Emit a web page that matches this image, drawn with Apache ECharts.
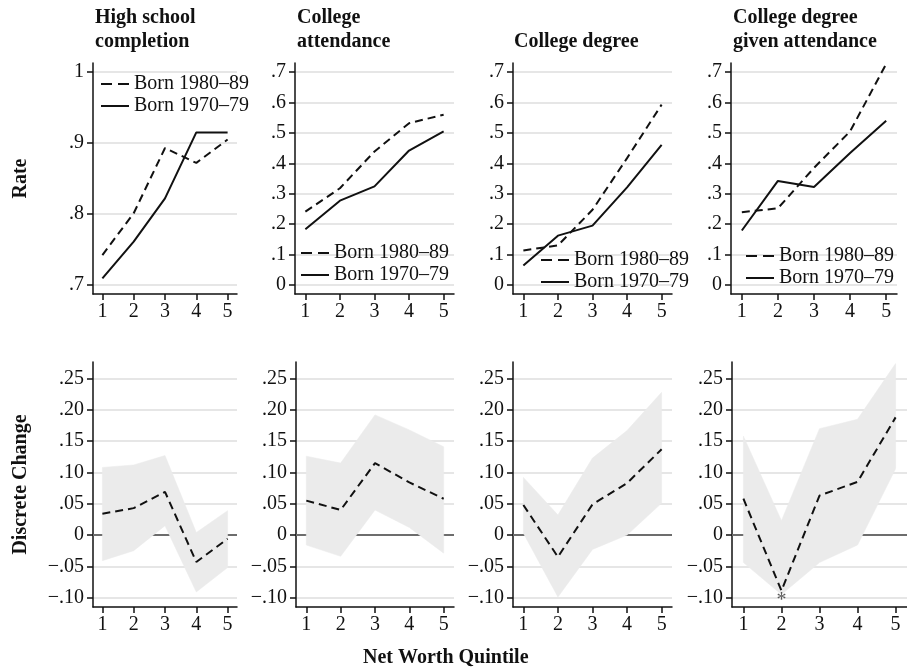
<!DOCTYPE html>
<html><head><meta charset="utf-8">
<script src="https://cdn.jsdelivr.net/npm/echarts@6/dist/echarts.min.js"></script>
<style>html,body{margin:0;padding:0;background:#fff}#c{width:907px;height:671px}</style>
</head><body><div id="c"></div>
<script>
// ---------- data ----------
const quintiles = [1, 2, 3, 4, 5];
const panelTitles = ['High school\ncompletion', 'College\nattendance', 'College degree', 'College degree\ngiven attendance'];
const seriesNames = ['Born 1980–89', 'Born 1970–79'];

// Top row: rates
const hsBorn80 = [0.742, 0.801, 0.893, 0.872, 0.905];
const hsBorn70 = [0.709, 0.761, 0.822, 0.915, 0.915];
const attBorn80 = [0.241, 0.318, 0.439, 0.532, 0.560];
const attBorn70 = [0.183, 0.277, 0.324, 0.442, 0.505];
const degBorn80 = [0.113, 0.130, 0.247, 0.417, 0.593];
const degBorn70 = [0.064, 0.162, 0.195, 0.321, 0.461];
const dgaBorn80 = [0.239, 0.252, 0.385, 0.505, 0.727];
const dgaBorn70 = [0.179, 0.342, 0.322, 0.434, 0.540];

// Bottom row: discrete change with confidence band
const hsChange = [0.034, 0.043, 0.069, -0.043, -0.006];
const hsLow    = [-0.041, -0.025, 0.015, -0.091, -0.052];
const hsHigh   = [0.108, 0.112, 0.127, 0.004, 0.039];
const attChange = [0.055, 0.040, 0.115, 0.084, 0.058];
const attLow    = [-0.016, -0.034, 0.040, 0.012, -0.029];
const attHigh   = [0.126, 0.115, 0.192, 0.168, 0.141];
const degChange = [0.048, -0.035, 0.049, 0.083, 0.137];
const degLow    = [0.003, -0.099, -0.023, 0.000, 0.051];
const degHigh   = [0.092, 0.032, 0.123, 0.167, 0.228];
const dgaChange = [0.058, -0.089, 0.063, 0.085, 0.188];
const dgaLow    = [-0.044, -0.095, -0.044, -0.016, 0.106];
const dgaHigh   = [0.158, 0.023, 0.170, 0.185, 0.274];
const dgaSignif = ['', '*', '', '', ''];

// Tick values and labels
const hsTicks = [0.7, 0.8, 0.9, 1];
const hsTickLabels = ['.7', '.8', '.9', '1'];
const rateTicks = [0, 0.1, 0.2, 0.3, 0.4, 0.5, 0.6, 0.7];
const rateTickLabels = ['0', '.1', '.2', '.3', '.4', '.5', '.6', '.7'];
const changeTicks = [-0.10, -0.05, 0, 0.05, 0.10, 0.15, 0.20, 0.25];
const changeTickLabels = ['\u2212.10', '\u2212.05', '0', '.05', '.10', '.15', '.20', '.25'];

// ---------- layout ----------
const FONT = "'Liberation Serif', 'DejaVu Serif', serif";
const INK = '#111';
const topRow = { top: 63, height: 231, cols: [[93, 144], [295, 159], [513, 159], [731, 166]] };
const botRow = { top: 362, height: 245, cols: [[93, 144], [296, 158], [513, 159], [732, 175]] };
const titleLeft = [95, 297, 514, 733];
const legendPos = [[100, 74], [300, 243], [540, 250], [745, 246]];
const topRanges = [[0.687, 1.013], [-0.03, 0.73], [-0.03, 0.73], [-0.03, 0.73]];
const botRange = [-0.115, 0.2765];

const topData = [[hsBorn80, hsBorn70], [attBorn80, attBorn70], [degBorn80, degBorn70], [dgaBorn80, dgaBorn70]];
const botData = [[hsChange, hsLow, hsHigh], [attChange, attLow, attHigh], [degChange, degLow, degHigh], [dgaChange, dgaLow, dgaHigh]];

const zip = (xs, ys) => xs.map((x, i) => [x, ys[i]]);
const fmt = (ticks, labels) => (v) => {
  const i = ticks.findIndex(t => Math.abs(t - v) < 1e-9);
  return i >= 0 ? labels[i] : '';
};

const grids = [], xAxes = [], yAxes = [], series = [], titles = [], legends = [];

function addAxes(idx, yMin, yMax, ticks, labels, name) {
  xAxes.push({
    gridIndex: idx, type: 'value', min: 0.7, max: 5.3,
    axisLine: { show: true, onZero: false, lineStyle: { color: INK, width: 1.5 } },
    axisTick: { show: true, customValues: quintiles, length: 6, lineStyle: { color: INK, width: 1.5 } },
    axisLabel: { customValues: quintiles, margin: 8, color: INK, fontSize: 20, fontFamily: FONT },
    splitLine: { show: false }
  });
  yAxes.push({
    gridIndex: idx, type: 'value', min: yMin, max: yMax,
    name: name || '', nameLocation: 'middle', nameGap: 62, nameRotate: 90,
    nameTextStyle: { color: INK, fontSize: 20, fontWeight: 'bold', fontFamily: FONT },
    axisLine: { show: true, onZero: false, lineStyle: { color: INK, width: 1.5 } },
    axisTick: { show: true, customValues: ticks, length: 6, lineStyle: { color: INK, width: 1.5 } },
    axisLabel: { customValues: ticks, margin: 9, color: INK, fontSize: 20, fontFamily: FONT, formatter: fmt(ticks, labels) },
    splitLine: { show: true, lineStyle: { color: '#e6e6e6', width: 2 } }
  });
}

// top row
for (let i = 0; i < 4; i++) {
  const [l, w] = topRow.cols[i];
  grids.push({ left: l, top: topRow.top, width: w, height: topRow.height, containLabel: false, outerBoundsMode: 'none' });
  const ticks = i === 0 ? hsTicks : rateTicks;
  const labels = i === 0 ? hsTickLabels : rateTickLabels;
  addAxes(i, topRanges[i][0], topRanges[i][1], ticks, labels, i === 0 ? 'Rate' : '');
  series.push({
    type: 'line', name: seriesNames[0], xAxisIndex: i, yAxisIndex: i,
    data: zip(quintiles, topData[i][0]), symbol: 'none', z: 3, silent: true,
    itemStyle: { color: INK },
    lineStyle: { color: INK, width: 2, type: [8, 5] }
  });
  series.push({
    type: 'line', name: seriesNames[1], xAxisIndex: i, yAxisIndex: i,
    data: zip(quintiles, topData[i][1]), symbol: 'none', z: 3, silent: true,
    itemStyle: { color: INK },
    lineStyle: { color: INK, width: 2, type: 'solid' }
  });
  titles.push({
    text: panelTitles[i], left: titleLeft[i], top: i === 2 ? 30 : 6, padding: 0,
    textStyle: { color: INK, fontSize: 20, fontWeight: 'bold', fontFamily: FONT, lineHeight: 24 }
  });
  legends.push({
    data: [
      { name: seriesNames[0], lineStyle: { type: [11, 6] } },
      { name: seriesNames[1] }
    ],
    orient: 'vertical', left: legendPos[i][0], top: legendPos[i][1],
    padding: 0, itemGap: 2, itemWidth: 28, itemHeight: 14, selectedMode: false,
    itemStyle: { opacity: 0, color: 'rgba(0,0,0,0)', borderWidth: 0 },
    lineStyle: { color: INK, width: 2 },
    textStyle: { color: INK, fontSize: 20, fontFamily: FONT }
  });
}

// bottom row
for (let j = 0; j < 4; j++) {
  const idx = 4 + j;
  const [l, w] = botRow.cols[j];
  grids.push({ left: l, top: botRow.top, width: w, height: botRow.height, containLabel: false, outerBoundsMode: 'none' });
  addAxes(idx, botRange[0], botRange[1], changeTicks, changeTickLabels, j === 0 ? 'Discrete Change' : '');
  const [chg, lo, hi] = botData[j];
  const bandRows = quintiles.map((q, k) => [q, lo[k], hi[k]]);
  series.push({
    type: 'custom', xAxisIndex: idx, yAxisIndex: idx, silent: true, z: 2, clip: true,
    data: bandRows,
    encode: { x: 0, y: [1, 2] },
    renderItem: (params, api) => {
      if (params.dataIndex !== 0) return null;
      const upper = bandRows.map(r => api.coord([r[0], r[2]]));
      const lower = bandRows.map(r => api.coord([r[0], r[1]])).reverse();
      return {
        type: 'polygon',
        shape: { points: upper.concat(lower) },
        style: { fill: '#ebebeb', stroke: '#ebebeb', lineWidth: 0.5 }
      };
    },
    markLine: {
      silent: true, symbol: 'none', z: 1, animation: false,
      label: { show: false },
      lineStyle: { color: '#6d6d6d', width: 2, type: 'solid' },
      data: [{ yAxis: 0 }]
    }
  });
  series.push({
    type: 'line', xAxisIndex: idx, yAxisIndex: idx,
    data: zip(quintiles, chg), symbol: 'none', z: 3, silent: true,
    lineStyle: { color: INK, width: 2, type: [8, 5] }
  });
  if (j === 3) {
    series.push({
      type: 'scatter', xAxisIndex: idx, yAxisIndex: idx, silent: true, z: 4,
      data: quintiles.map((q, k) => [q, chg[k], dgaSignif[k]]).filter(d => d[2]),
      symbolSize: 1, itemStyle: { color: 'rgba(0,0,0,0)' },
      label: { show: true, position: 'bottom', distance: 0, formatter: p => p.data[2],
               color: '#333', fontSize: 20, fontFamily: FONT }
    });
  }
}

titles.push({
  text: 'Net Worth Quintile', left: 363, top: 648, padding: 0,
  textStyle: { color: INK, fontSize: 20, fontWeight: 'bold', fontFamily: FONT }
});

const chart = echarts.init(document.getElementById('c'), null, { renderer: 'canvas' });
chart.setOption({
  backgroundColor: '#fff',
  animation: false,
  textStyle: { fontFamily: FONT },
  title: titles, legend: legends, grid: grids, xAxis: xAxes, yAxis: yAxes, series: series
});
</script></body></html>
